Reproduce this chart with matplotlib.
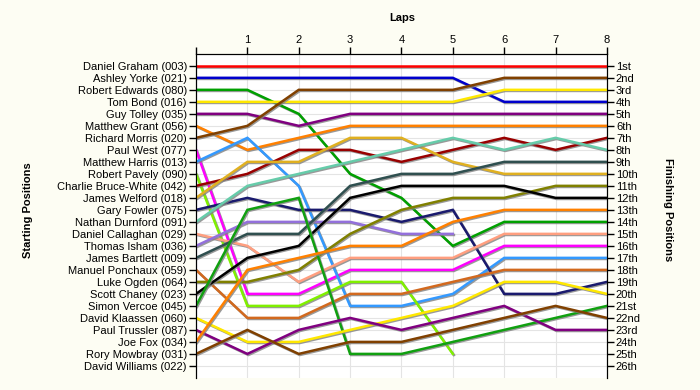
import numpy as np
import matplotlib
matplotlib.use("Agg")
from matplotlib import pyplot as plt
from matplotlib import patheffects as pe

plt.rcParams["font.family"] = ["Liberation Sans", "DejaVu Sans"]

drivers = [
    "Daniel Graham (003)", "Ashley Yorke (021)", "Robert Edwards (080)", "Tom Bond (016)",
    "Guy Tolley (035)", "Matthew Grant (056)", "Richard Morris (020)", "Paul West (077)",
    "Matthew Harris (013)", "Robert Pavely (090)", "Charlie Bruce-White (042)",
    "James Welford (018)", "Gary Fowler (075)", "Nathan Durnford (091)",
    "Daniel Callaghan (029)", "Thomas Isham (036)", "James Bartlett (009)",
    "Manuel Ponchaux (059)", "Luke Ogden (064)", "Scott Chaney (023)", "Simon Vercoe (045)",
    "David Klaassen (060)", "Paul Trussler (087)", "Joe Fox (034)", "Rory Mowbray (031)",
    "David Williams (022)",
]

colors = [
    "#FF0000", "#0000CC", "#00A000", "#FFE800", "#800080", "#FF8000", "#804000", "#FF00FF",
    "#3399FF", "#80F000", "#990000", "#E0B020", "#1A1A6E", "#66CCAA", "#FF9F80", "#9370DB",
    "#2F4F4F", "#D2691E", "#808000", "#000000", "#10A010", "#FFE800", "#800080", "#FF8000",
    "#804000", "#999999",
]

laps = [0, 1, 2, 3, 4, 5, 6, 7, 8]

# position of each driver at the end of each lap (None = retired / did not start)
positions = [
    [1, 1, 1, 1, 1, 1, 1, 1, 1],
    [2, 2, 2, 2, 2, 2, 4, 4, 4],
    [3, 3, 5, 10, 12, 16, 14, 14, 14],
    [4, 4, 4, 4, 4, 4, 3, 3, 3],
    [5, 5, 6, 5, 5, 5, 5, 5, 5],
    [6, 8, 7, 6, 6, 6, 6, 6, 6],
    [7, 6, 3, 3, 3, 3, 2, 2, 2],
    [8, 20, 20, 18, 18, 18, 16, 16, 16],
    [9, 7, 11, 21, 21, 20, 17, 17, 17],
    [10, 21, 21, 19, 19, 25, None, None, None],
    [11, 10, 8, 8, 9, 8, 7, 8, 7],
    [12, 9, 9, 7, 7, 9, 10, 10, 10],
    [13, 12, 13, 13, 14, 13, 20, 20, 19],
    [14, 11, 10, 9, 8, 7, 8, 7, 8],
    [15, 16, 19, 17, 17, 17, 15, 15, 15],
    [16, 14, 14, 14, 15, 15, None, None, None],
    [17, 15, 15, 11, 10, 10, 9, 9, 9],
    [18, 22, 22, 20, 20, 19, 18, 18, 18],
    [19, 19, 18, 15, 13, 12, 12, 11, 11],
    [20, 17, 16, 12, 11, 11, 11, 12, 12],
    [21, 13, 12, 25, 25, 24, 23, 22, 21],
    [22, 24, 24, 23, 22, 21, 19, 19, 20],
    [23, 25, 23, 22, 23, 22, 21, 23, 23],
    [24, 18, 17, 16, 16, 14, 13, 13, 13],
    [25, 23, 25, 24, 24, 23, 22, 21, 22],
    [None] * 9,
]

finish_labels = ["1st", "2nd", "3rd"] + [f"{i}th" for i in range(4, 21)] + \
    ["21st", "22nd", "23rd", "24th", "25th", "26th"]

n = len(drivers)
fig = plt.figure(figsize=(7, 3.9), dpi=100, facecolor="#FDFDF3")
ax = fig.add_axes([0.28, 0.031, 0.587, 0.831])
ax.set_facecolor("white")

shadow = [pe.SimpleLineShadow(offset=(0.8, -0.8), shadow_color="#808080", alpha=0.8), pe.Normal()]
for pos, color in zip(positions, colors):
    y = np.array([np.nan if p is None else p for p in pos], dtype=float)
    ax.plot(laps, y, color=color, lw=1.8, solid_joinstyle="miter", path_effects=shadow, zorder=3)

ax.set_xlim(0, 8)
ax.set_ylim(27, 0)
ax.set_xticks(laps)
ax.set_xticklabels([""] + [str(l) for l in laps[1:]], fontsize=8)
ax.xaxis.tick_top()
ax.set_yticks(range(1, n + 1))
ax.set_yticklabels(drivers, fontsize=8)

ax.grid(True, color="#E4E4E4", lw=0.8, zorder=0)
ax.set_axisbelow(True)
ax.tick_params(axis="both", length=5, width=1, pad=1.5, color="black")
ax.spines["bottom"].set_visible(False)

ax2 = ax.twinx()
ax2.set_ylim(27, 0)
ax2.set_yticks(range(1, n + 1))
ax2.set_yticklabels(finish_labels, fontsize=8)
ax2.tick_params(axis="y", length=5, width=1, pad=1.5)
ax2.spines["bottom"].set_visible(False)

fig.text(402 / 700, 1 - 18 / 390, "Laps", fontsize=8, fontweight="bold", ha="center", va="center")
fig.text(28 / 700, 1 - 210 / 390, "Starting Positions", fontsize=8, fontweight="bold",
         rotation=90, ha="center", va="center")
fig.text(668 / 700, 1 - 210 / 390, "Finishing Positions", fontsize=8, fontweight="bold",
         rotation=270, ha="center", va="center")

fig.savefig("out.png", dpi=100, facecolor=fig.get_facecolor())
